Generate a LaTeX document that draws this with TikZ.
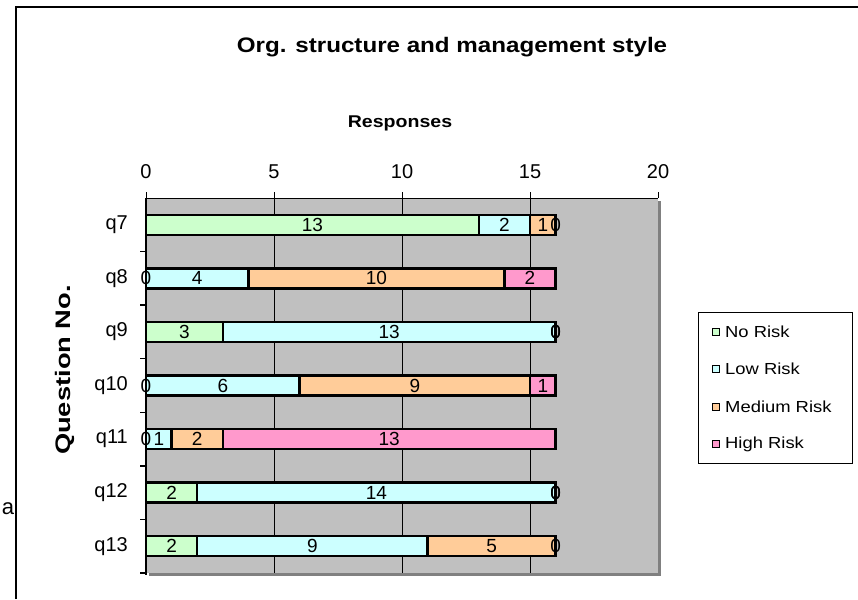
\documentclass[tikz,border=0pt]{standalone}
\usepackage{fontspec}
\setmainfont{Liberation Sans}
\newfontfamily\widesans[FakeStretch=1.15]{Liberation Sans}
\newfontfamily\widersans[FakeStretch=1.3]{Liberation Sans}
\definecolor{norisk}{HTML}{CCFFCC}
\definecolor{lowrisk}{HTML}{CCFFFF}
\definecolor{medrisk}{HTML}{FFCC99}
\definecolor{highrisk}{HTML}{FF99CC}
\definecolor{plotgray}{HTML}{C0C0C0}
\definecolor{shadowgray}{HTML}{808080}
\tikzset{
  titletext/.style={font=\widesans\bfseries\fontsize{21}{25}\selectfont, inner sep=0pt},
  axistitle/.style={font=\widesans\bfseries\fontsize{17}{20}\selectfont, inner sep=0pt},
  vaxistitle/.style={font=\widersans\bfseries\fontsize{21}{25}\selectfont, inner sep=0pt},
  ticklabel/.style={font=\fontsize{20}{24}\selectfont, inner sep=0pt},
  vallabel/.style={font=\fontsize{19}{22}\selectfont, inner sep=0pt},
  legtext/.style={font=\widesans\fontsize{16}{19}\selectfont, inner sep=0pt, anchor=west},
  segment/.style={draw=black, line width=2.4pt},
  legmark/.style={draw=black, line width=1.6pt, minimum size=7pt, inner sep=0pt},
  thinline/.style={line width=1pt},
}
\begin{document}
\begin{tikzpicture}[x=1pt,y=-1pt]
\useasboundingbox (0,0) rectangle (858,599);
% outer chart frame (open at right and bottom)
\draw[line width=1.3pt] (16,599) -- (16,7) -- (858,7);
% title and axis titles
\node[titletext] (title) at (452,47) {Org. structure and management style};
\node[axistitle] (resp) at (400,123) {Responses};
\node[vaxistitle, rotate=90] (qno) at (65,370) {Question No.};
\node[font=\fontsize{22}{26}\selectfont, inner sep=0pt] (a) at (8,509) {a};
% plot area with drop shadow
\fill[shadowgray] (149,201) rectangle (661,576);
\fill[plotgray] (146,198) rectangle (658,573);
% vertical gridlines, top axis ticks and labels
\foreach \v in {0,5,10,15,20}{
  \pgfmathsetmacro\xx{146+25.6*\v}
  \draw[thinline] (\xx,192) -- (\xx,198);
  \node[ticklabel] (tick\v) at (\xx,172) {\v};
}
\foreach \v in {5,10,15}{
  \pgfmathsetmacro\xx{146+25.6*\v}
  \draw[thinline] (\xx,198) -- (\xx,573);
}
\draw[thinline] (146,198) -- (658,198);
% left axis with category ticks
\draw[line width=1.4pt] (146,198) -- (146,575);
\foreach \k in {1,...,7}{
  \pgfmathsetmacro\yy{198+53.57*\k}
  \draw[line width=1.4pt] (140,\yy) -- (146,\yy);
}
% stacked bars: no / low / medium / high risk
\foreach \q/\a/\b/\c/\d [count=\i from 0] in
  {q7/13/2/1/0, q8/0/4/10/2, q9/3/13/0/0, q10/0/6/9/1,
   q11/0/1/2/13, q12/2/14/0/0, q13/2/9/5/0}{
  \pgfmathsetmacro\yc{198+53.57*(\i+0.5)}
  \pgfmathsetmacro\yt{\yc-10}
  \pgfmathsetmacro\yb{\yc+10}
  \pgfmathsetmacro\xa{146}
  \pgfmathsetmacro\xb{146+25.6*\a}
  \pgfmathsetmacro\xc{146+25.6*(\a+\b)}
  \pgfmathsetmacro\xd{146+25.6*(\a+\b+\c)}
  \pgfmathsetmacro\xe{146+25.6*(\a+\b+\c+\d)}
  \node[ticklabel, anchor=east] (cat\i) at (128,\yc) {\q};
  \filldraw[segment, fill=norisk]   (\xa,\yt) rectangle (\xb,\yb);
  \filldraw[segment, fill=lowrisk]  (\xb,\yt) rectangle (\xc,\yb);
  \filldraw[segment, fill=medrisk]  (\xc,\yt) rectangle (\xd,\yb);
  \filldraw[segment, fill=highrisk] (\xd,\yt) rectangle (\xe,\yb);
  \node[vallabel] at ({(\xa+\xb)/2},\yc) {\a};
  \node[vallabel] at ({(\xb+\xc)/2},\yc) {\b};
  \node[vallabel] at ({(\xc+\xd)/2},\yc) {\c};
  \node[vallabel] at ({(\xd+\xe)/2},\yc) {\d};
}
% legend
\draw[thinline] (698,312) rectangle (852,463);
\foreach \col/\txt/\yy in {norisk/No Risk/332, lowrisk/Low Risk/369,
                           medrisk/Medium Risk/407, highrisk/High Risk/444}{
  \node[legmark, fill=\col] (m\col) at (716,\yy) {};
  \node[legtext] (l\col) at (725,\yy) {\txt};
}
\end{tikzpicture}
\end{document}
